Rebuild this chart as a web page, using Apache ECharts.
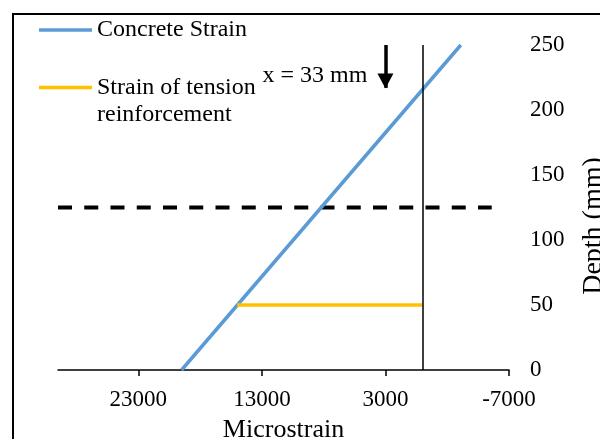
<!DOCTYPE html>
<html>
<head>
<meta charset="utf-8">
<script src="https://cdn.jsdelivr.net/npm/echarts@6/dist/echarts.min.js"></script>
<style>
  html, body { margin: 0; padding: 0; background: #fff; }
  #chart { width: 600px; height: 439px; }
</style>
</head>
<body>
<div id="chart"></div>
<script>
// Strain profile across the section depth
const strainTicks = [23000, 13000, 3000, -7000];

const concreteStrain = [19500, -3100];
const concreteDepth = [0, 250];

const steelStrain = [15000, 0];
const steelDepth = [50, 50];

const midDepthStrain = [29500, -5600];
const midDepth = [125, 125];

// zero-strain reference line
const zeroStrain = 0;

// neutral axis: arrow drawn from the top fibre down to depth 217 mm (x = 33 mm)
const arrowStrain = 3000;
const arrowDepth = [250, 217];
const naLabel = 'x = 33 mm';
const depthTitle = 'Depth (mm)';

const FONT = 'Liberation Serif';
const zip = (xs, ys) => xs.map((x, i) => [x, ys[i]]);

const chart = echarts.init(document.getElementById('chart'), null, { renderer: 'canvas' });

const option = {
  animation: false,
  backgroundColor: '#fff',
  textStyle: { fontFamily: FONT, color: '#000' },
  grid: { left: 58, right: 91, top: 45, bottom: 69, containLabel: false, outerBoundsMode: 'none' },
  legend: [
    {
      data: ['Concrete Strain'],
      left: 39, top: 18, padding: 0,
      icon: 'rect', itemWidth: 53, itemHeight: 3.5,
      textStyle: { fontFamily: FONT, fontSize: 24, color: '#000' }
    },
    {
      data: ['Strain of tension reinforcement'],
      left: 39, top: 46, padding: 0,
      icon: 'rect', itemWidth: 53, itemHeight: 3.5,
      formatter: n => '\n' + n.replace(' reinforcement', '\nreinforcement'),
      textStyle: { fontFamily: FONT, fontSize: 24, lineHeight: 27, color: '#000', padding: [2, 0, 0, 0] }
    }
  ],
  xAxis: {
    type: 'value', inverse: true,
    min: -7000, max: 29500, interval: 10000,
    axisLine: { show: true, lineStyle: { color: '#000', width: 1.5 } },
    axisTick: { show: true, length: 6, customValues: strainTicks, lineStyle: { color: '#000', width: 1.5 } },
    axisLabel: { customValues: strainTicks, formatter: v => String(v), fontFamily: FONT, fontSize: 23, color: '#000', margin: 18 },
    splitLine: { show: false },
    name: 'Microstrain', nameLocation: 'middle', nameGap: 47,
    nameTextStyle: { fontFamily: FONT, fontSize: 26, color: '#000' }
  },
  yAxis: {
    type: 'value', min: 0, max: 250, interval: 50, position: 'right',
    axisLine: { show: false }, axisTick: { show: false }, splitLine: { show: false },
    axisLabel: { fontFamily: FONT, fontSize: 23, color: '#000', margin: 21 }
  },
  series: [
    {
      name: 'Mid depth', type: 'line',
      data: zip(midDepthStrain, midDepth),
      symbol: 'none', silent: true,
      lineStyle: { color: '#000', width: 4, type: [14, 12.25] },
      markLine: {
        silent: true, animation: false, symbol: 'none',
        label: { show: false },
        lineStyle: { color: '#000', width: 1.5, type: 'solid' },
        data: [{ xAxis: zeroStrain }]
      }
    },
    {
      name: 'Concrete Strain', type: 'line',
      data: zip(concreteStrain, concreteDepth),
      symbol: 'none', color: '#5B9BD5',
      lineStyle: { color: '#5B9BD5', width: 3.5 },
      markLine: {
        silent: true, animation: false,
        symbol: ['none', 'triangle'], symbolSize: [16, 15], symbolOffset: [0, [0, 7]],
        label: { show: false },
        lineStyle: { color: '#000', width: 3.5, type: 'solid', cap: 'butt' },
        data: [[{ coord: [arrowStrain, arrowDepth[0]] }, { coord: [arrowStrain, arrowDepth[1]] }]]
      }
    },
    {
      name: 'Strain of tension reinforcement', type: 'line',
      data: zip(steelStrain, steelDepth),
      symbol: 'none', color: '#FFC000',
      lineStyle: { color: '#FFC000', width: 3.5 }
    }
  ]
};
chart.setOption(option);

// arrow label, rotated depth title and the outer chart frame
const arrowTop = chart.convertToPixel({ xAxisIndex: 0, yAxisIndex: 0 }, [arrowStrain, arrowDepth[0]]);
chart.setOption({
  graphic: [
    {
      type: 'text', x: arrowTop[0] - 18, y: arrowTop[1] + 31,
      style: { text: naLabel, font: '24px "Liberation Serif"', fill: '#000', align: 'right', verticalAlign: 'middle' }
    },
    {
      type: 'text', x: 594, y: 226, rotation: Math.PI / 2,
      style: { text: depthTitle, font: '28px "Liberation Serif"', fill: '#000', align: 'center', verticalAlign: 'middle' }
    },
    {
      type: 'rect', shape: { x: 13, y: 14, width: 700, height: 500 },
      style: { fill: 'none', stroke: '#000', lineWidth: 2 }, silent: true
    }
  ]
});
</script>
</body>
</html>
